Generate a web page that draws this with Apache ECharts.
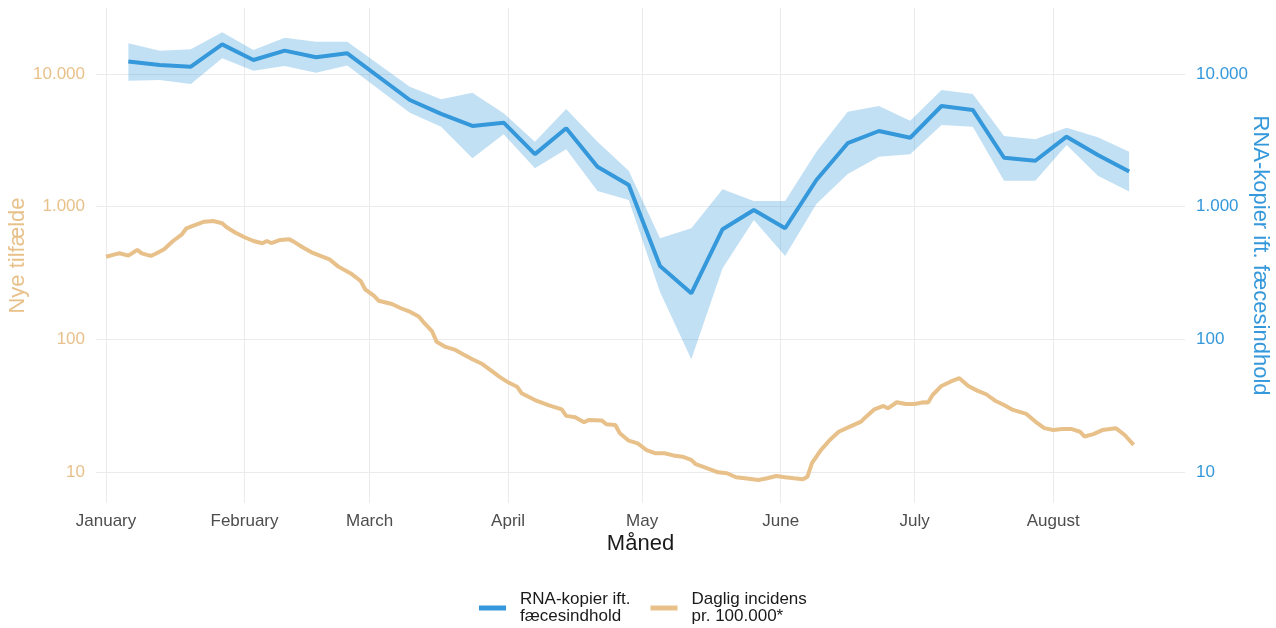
<!DOCTYPE html>
<html><head><meta charset="utf-8">
<script src="https://cdn.jsdelivr.net/npm/echarts@6/dist/echarts.min.js"></script>
<style>html,body{margin:0;padding:0;background:#fff}#c{width:1276px;height:628px}</style>
</head><body><div id="c"></div>
<script>
// ---- data ----
const rnaDates = ['2021-01-06','2021-01-13','2021-01-20','2021-01-27','2021-02-03','2021-02-10','2021-02-17','2021-02-24',
  '2021-03-10','2021-03-17','2021-03-24','2021-03-31','2021-04-07','2021-04-14','2021-04-21','2021-04-28',
  '2021-05-05','2021-05-12','2021-05-19','2021-05-26','2021-06-02','2021-06-09','2021-06-16','2021-06-23','2021-06-30',
  '2021-07-07','2021-07-14','2021-07-21','2021-07-28','2021-08-04','2021-08-11','2021-08-18'];
const rnaValues = [12400,11700,11350,16700,12750,15000,13350,14300,
  6370,5000,4060,4300,2490,3900,2000,1460,
  358,223,677,946,689,1590,3010,3720,3310,
  5740,5360,2340,2220,3370,2450,1840];
const rnaUpper = [17030,14980,15350,20600,15160,18760,17510,17500,
  8020,6450,7230,5060,3090,5450,3090,1870,
  579,689,1354,1106,1106,2600,5200,5740,4450,
  7580,7070,3410,3220,3940,3340,2600];
const rnaLower = [8900,9010,8410,13130,10590,11490,10230,11600,
  5110,4010,2320,3515,1950,2710,1315,1125,
  228,71,344,795,426,1050,1766,2384,2485,
  4130,4010,1572,1572,2920,1715,1300];

const incidenceDates = ['2021-01-01','2021-01-03','2021-01-04','2021-01-06','2021-01-08','2021-01-09','2021-01-11','2021-01-12',
  '2021-01-14','2021-01-16','2021-01-18','2021-01-19','2021-01-21','2021-01-23','2021-01-25','2021-01-27','2021-01-28','2021-01-30',
  '2021-02-01','2021-02-03','2021-02-05','2021-02-06','2021-02-07','2021-02-09','2021-02-11','2021-02-12','2021-02-14','2021-02-16',
  '2021-02-18','2021-02-20','2021-02-22','2021-02-25','2021-02-27','2021-02-28',
  '2021-03-02','2021-03-03','2021-03-06','2021-03-08','2021-03-10','2021-03-12','2021-03-13','2021-03-15','2021-03-16','2021-03-18',
  '2021-03-20','2021-03-22','2021-03-24','2021-03-26','2021-03-28','2021-03-30',
  '2021-04-01','2021-04-03','2021-04-04','2021-04-07','2021-04-10','2021-04-13','2021-04-14','2021-04-16','2021-04-18','2021-04-19',
  '2021-04-22','2021-04-23','2021-04-25','2021-04-26','2021-04-28','2021-04-30',
  '2021-05-02','2021-05-04','2021-05-06','2021-05-08','2021-05-10','2021-05-12','2021-05-13','2021-05-15','2021-05-18','2021-05-20',
  '2021-05-22','2021-05-24','2021-05-27','2021-05-29','2021-05-31',
  '2021-06-02','2021-06-04','2021-06-06','2021-06-07','2021-06-08','2021-06-10','2021-06-12','2021-06-14','2021-06-16','2021-06-19',
  '2021-06-20','2021-06-22','2021-06-24','2021-06-25','2021-06-27','2021-06-29',
  '2021-07-01','2021-07-03','2021-07-04','2021-07-05','2021-07-07','2021-07-09','2021-07-11','2021-07-13','2021-07-15','2021-07-17',
  '2021-07-19','2021-07-21','2021-07-23','2021-07-26','2021-07-28','2021-07-30',
  '2021-08-01','2021-08-03','2021-08-05','2021-08-07','2021-08-08','2021-08-10','2021-08-12','2021-08-15','2021-08-17','2021-08-19'];
const incidenceValues = [420,438,446,428,473,446,426,441,
  478,552,620,688,729,772,781,751,700,638,
  589,552,531,552,533,562,569,546,495,454,
  426,402,354,311,276,239,
  213,196,185,172,162,149,136,115,96,88,
  84,77,71,66,59,52.5,
  47.6,44.1,39.4,35.0,32.1,29.8,26.6,26.0,23.8,24.8,
  24.5,23.0,22.7,19.7,17.3,16.5,
  14.7,13.9,13.9,13.4,13.1,12.4,11.5,10.9,10.0,9.83,
  9.17,9.01,8.75,9.01,9.38,
  9.17,9.01,8.86,9.27,11.7,14.7,17.5,20.2,21.7,24.1,
  26.0,29.8,31.6,30.3,33.7,32.7,
  32.7,33.7,33.5,38.2,44.7,48.1,51.1,44.7,41.2,38.7,
  34.6,32.1,29.5,27.5,24.1,21.5,
  20.8,21.2,21.2,20.2,18.6,19.4,20.8,21.5,19.1,16.1];

const monthNames = ['January','February','March','April','May','June','July','August','September','October','November','December'];
const seriesNames = ['RNA-kopier ift.\nfæcesindhold', 'Daglig incidens\npr. 100.000*'];
const axisNames = ['Nye tilfælde', 'RNA-kopier ift. fæcesindhold', 'Måned'];
const yMin = 5.87, yMax = 31400;

// ---- styling ----
const BLUE = '#3498db', TAN = '#e8c08a', GRID = '#ebebeb';
const FONT = 'Liberation Sans, Arial, sans-serif';
const DAY = 86400000;
const xMin = new Date(2021, 0, 1).getTime() - 2.24 * DAY;
const xMax = new Date(2021, 0, 1).getTime() + 241.5 * DAY;

function fmt(v) {
  const e = Math.log10(v);
  if (Math.abs(e - Math.round(e)) > 1e-6) return '';
  return String(Math.round(v)).replace(/\B(?=(\d{3})+(?!\d))/g, '.');
}
const zip = (a, b) => a.map((d, i) => [d, b[i]]);
const bandDiff = rnaUpper.map((u, i) => u - rnaLower[i]);

const chart = echarts.init(document.getElementById('c'), null, {renderer: 'canvas'});
chart.setOption({
  animation: false,
  textStyle: {fontFamily: FONT},
  grid: {left: 96, right: 91, top: 8, bottom: 125, containLabel: false, outerBoundsMode: 'none'},
  legend: {
    data: seriesNames.map(n => ({name: n, icon: 'rect'})),
    left: 474, top: 586,
    itemWidth: 27, itemHeight: 5, itemGap: 20,
    textStyle: {fontSize: 17, color: '#1a1a1a', lineHeight: 17, padding: [0, 0, 0, 9], fontFamily: FONT}
  },
  xAxis: {
    type: 'time', min: xMin, max: xMax, splitNumber: 8,
    minInterval: 28 * DAY, maxInterval: 31 * DAY,
    axisLine: {show: false}, axisTick: {show: false},
    splitLine: {show: true, showMinLine: false, showMaxLine: false, lineStyle: {color: GRID, width: 1}},
    axisLabel: {color: '#4d4d4d', fontSize: 17, margin: 10, fontFamily: FONT, showMinLabel: false, showMaxLabel: false,
      formatter: v => monthNames[new Date(v).getMonth()]},
    name: axisNames[2], nameLocation: 'middle', nameGap: 30, nameMoveOverlap: false,
    nameTextStyle: {color: '#1a1a1a', fontSize: 22, fontFamily: FONT}
  },
  yAxis: [{
    type: 'log', logBase: 10, min: yMin, max: yMax, position: 'left',
    axisLine: {show: false}, axisTick: {show: false},
    splitLine: {show: true, showMinLine: false, showMaxLine: false, lineStyle: {color: GRID, width: 1}},
    axisLabel: {color: TAN, fontSize: 17, margin: 11, showMinLabel: false, showMaxLabel: false, formatter: fmt, fontFamily: FONT},
    name: axisNames[0], nameLocation: 'middle', nameGap: 67, nameMoveOverlap: false,
    nameTextStyle: {color: TAN, fontSize: 22, fontFamily: FONT}
  }, {
    type: 'log', logBase: 10, min: yMin, max: yMax, position: 'right',
    axisLine: {show: false}, axisTick: {show: false},
    splitLine: {show: false},
    axisLabel: {color: BLUE, fontSize: 17, margin: 11, showMinLabel: false, showMaxLabel: false, formatter: fmt, fontFamily: FONT},
    name: axisNames[1], nameLocation: 'middle', nameGap: 64, nameRotate: -90, nameMoveOverlap: false,
    nameTextStyle: {color: BLUE, fontSize: 22, fontFamily: FONT}
  }],
  series: [{
    name: 'band-lower', type: 'line', yAxisIndex: 1, stack: 'band', silent: true,
    data: zip(rnaDates, rnaLower), symbol: 'none', lineStyle: {opacity: 0}
  }, {
    name: 'band', type: 'line', yAxisIndex: 1, stack: 'band', silent: true,
    data: zip(rnaDates, bandDiff), symbol: 'none', lineStyle: {opacity: 0},
    areaStyle: {color: 'rgba(52,152,219,0.3)', opacity: 1}
  }, {
    name: seriesNames[0], type: 'line', yAxisIndex: 1, color: BLUE,
    data: zip(rnaDates, rnaValues), symbol: 'none', lineStyle: {width: 4, color: BLUE}
  }, {
    name: seriesNames[1], type: 'line', yAxisIndex: 0, color: TAN,
    data: zip(incidenceDates, incidenceValues), symbol: 'none', lineStyle: {width: 4, color: TAN}
  }]
});
</script></body></html>
